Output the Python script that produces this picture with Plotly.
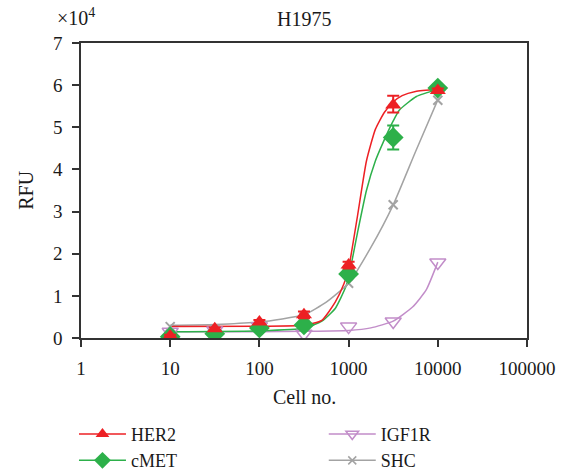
import plotly.graph_objects as go

# ---- data (RFU in units of 1e4) ----
cells = [10, 31.6, 100, 316, 1000, 3162, 10000]
her2 = [0.05, 0.22, 0.38, 0.55, 1.73, 5.53, 5.87]
her2_err_up = [0.03, 0.03, 0.05, 0.08, 0.08, 0.22, 0.05]
her2_err_dn = [0.03, 0.03, 0.05, 0.08, 0.08, 0.18, 0.05]
cmet = [0.03, 0.10, 0.24, 0.31, 1.52, 4.76, 5.93]
cmet_err_up = [0.02, 0.02, 0.03, 0.05, 0.08, 0.28, 0.03]
cmet_err_dn = [0.02, 0.02, 0.03, 0.05, 0.08, 0.29, 0.03]
igf1r = [0.15, 0.18, 0.28, 0.10, 0.27, 0.39, 1.79]
shc = [0.27, 0.20, 0.30, 0.50, 1.30, 3.16, 5.64]

# fitted curves (x in cell no., y in 1e4 RFU)
her2_fit_x = [10, 100, 316, 501, 708, 891, 1000, 1259, 1585, 1995, 2512, 3162, 3981, 5623, 10000]
her2_fit_y = [0.27, 0.28, 0.30, 0.42, 0.85, 1.30, 1.65, 2.90, 4.20, 4.95, 5.35, 5.60, 5.75, 5.85, 5.90]
cmet_fit_x = [10, 100, 316, 501, 708, 933, 1023, 1259, 1585, 1995, 2427, 3162, 3715, 5754, 10000]
cmet_fit_y = [0.15, 0.17, 0.23, 0.40, 0.70, 1.22, 1.54, 2.50, 3.50, 4.20, 4.63, 5.15, 5.41, 5.73, 5.90]
shc_fit_x = [10, 31.6, 100, 316, 562, 1000, 1778, 3162, 5623, 10000]
shc_fit_y = [0.30, 0.32, 0.38, 0.55, 0.85, 1.30, 2.15, 3.16, 4.42, 5.65]
igf1r_fit_x = [10, 100, 316, 1000, 1778, 3162, 5248, 7413, 10000]
igf1r_fit_y = [0.15, 0.15, 0.16, 0.18, 0.24, 0.40, 0.74, 1.14, 1.80]

xtick_vals = [1, 10, 100, 1000, 10000, 100000]
xtick_text = ["1", "10", "100", "1000", "10000", "100000"]
ytick_vals = [0, 1, 2, 3, 4, 5, 6, 7]

RED = "#ED2024"
GREEN = "#2DB04A"
PURPLE = "#C28DC9"
GRAY = "#A3A3A3"
FONT = "Liberation Serif"
TXT = "#1a1a1a"

fig = go.Figure()

def fit(x, y, color):
    fig.add_trace(go.Scatter(x=x, y=y, mode="lines", line=dict(color=color, width=1.5, shape="spline", smoothing=0.5),
                             showlegend=False, hoverinfo="skip"))

fit(shc_fit_x, shc_fit_y, GRAY)
fit(igf1r_fit_x, igf1r_fit_y, PURPLE)
fit(cmet_fit_x, cmet_fit_y, GREEN)
fit(her2_fit_x, her2_fit_y, RED)

# markers
fig.add_trace(go.Scatter(x=cells, y=shc, mode="markers", showlegend=False,
                         marker=dict(symbol="x-thin-open", size=9, line=dict(color=GRAY, width=2), color=GRAY)))
fig.add_trace(go.Scatter(x=cells, y=igf1r, mode="markers", showlegend=False,
                         marker=dict(symbol="triangle-down-open", size=14, color=PURPLE, line=dict(width=1.5))))
fig.add_trace(go.Scatter(x=cells, y=cmet, mode="markers", showlegend=False,
                         error_y=dict(type="data", array=cmet_err_up, arrayminus=cmet_err_dn, color=GREEN, thickness=2, width=6),
                         marker=dict(symbol="diamond", size=16, color=GREEN)))
fig.add_trace(go.Scatter(x=cells, y=her2, mode="markers", showlegend=False,
                         error_y=dict(type="data", array=her2_err_up, arrayminus=her2_err_dn, color=RED, thickness=2, width=6),
                         marker=dict(symbol="triangle-up", size=14, color=RED)))

# legend entries
def leg(name, color, symbol, size, legend, open_=False):
    m = dict(symbol=symbol, size=size, color=color)
    if open_:
        m["line"] = dict(color=color, width=1.5)
    fig.add_trace(go.Scatter(x=[None], y=[None], mode="lines+markers", name=name,
                             line=dict(color=color, width=1.5), marker=m, legend=legend))

leg("HER2", RED, "triangle-up", 12, "legend")
leg("cMET", GREEN, "diamond", 13, "legend")
leg("IGF1R", PURPLE, "triangle-down-open", 11, "legend2", True)
leg("SHC", GRAY, "x-thin-open", 8, "legend2", True)

axis_common = dict(showline=True, linecolor="#333333", linewidth=1.5, mirror=True,
                   ticks="outside", ticklen=7, tickwidth=1.5, tickcolor="#333333",
                   showgrid=False, zeroline=False,
                   tickfont=dict(family=FONT, size=19, color=TXT))

fig.update_xaxes(type="log", range=[0, 5], tickvals=xtick_vals, ticktext=xtick_text,
                 ticklabelstandoff=5, **axis_common)
fig.update_yaxes(range=[0, 7], tickvals=ytick_vals, ticklabelstandoff=6, **axis_common)

leg_font = dict(family=FONT, size=18)
fig.update_layout(
    width=569, height=473,
    margin=dict(l=81, r=42, t=43, b=135, autoexpand=False),
    paper_bgcolor="white", plot_bgcolor="white",
    font=dict(family=FONT, color=TXT),
    legend=dict(x=0.130, y=0.121, xref="container", yref="container", xanchor="left", yanchor="top",
                font=leg_font, bgcolor="rgba(0,0,0,0)", tracegroupgap=0, itemwidth=47),
    legend2=dict(x=0.569, y=0.121, xref="container", yref="container", xanchor="left", yanchor="top",
                 font=leg_font, bgcolor="rgba(0,0,0,0)", tracegroupgap=0, itemwidth=47),
    annotations=[
        dict(text="H1975", x=0.5, y=1.0, xref="paper", yref="paper", yshift=24, yanchor="middle",
             xanchor="center", showarrow=False, font=dict(family=FONT, size=20, color=TXT)),
        dict(text="×10<sup>4</sup>", x=-0.011, y=1.0, xref="paper", yref="paper", yshift=26, yanchor="middle",
             xanchor="center", showarrow=False, font=dict(family=FONT, size=20, color=TXT)),
        dict(text="RFU", x=-0.125, y=0.5, xref="paper", yref="paper", textangle=-90, showarrow=False,
             xanchor="center", yanchor="middle", font=dict(family=FONT, size=20, color=TXT)),
        dict(text="Cell no.", x=0.5, y=0.0, xref="paper", yref="paper", yshift=-59, yanchor="middle",
             xanchor="center", showarrow=False, font=dict(family=FONT, size=20, color=TXT)),
    ],
)

fig.write_html("out.html")
